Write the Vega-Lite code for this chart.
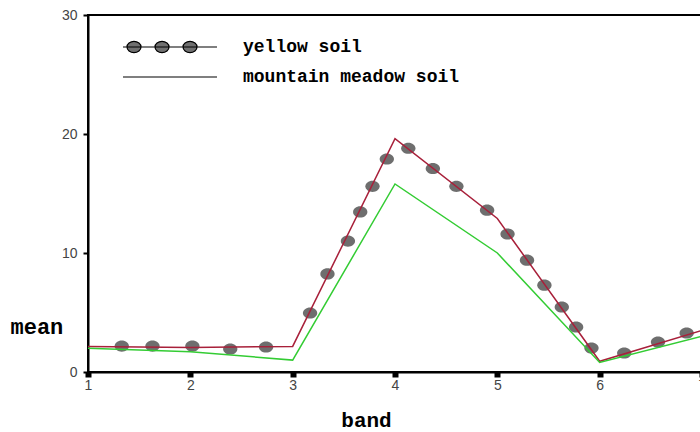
{
  "$schema": "https://vega.github.io/schema/vega-lite/v6.json",
  "width": 614,
  "height": 357,
  "autosize": {"type": "none"},
  "padding": {"left": 88, "top": 15, "right": 0, "bottom": 60},
  "background": "white",
  "config": {
    "view": {"stroke": "black", "strokeWidth": 2},
    "axis": {
      "grid": false,
      "domainColor": "black",
      "domainWidth": 2,
      "tickColor": "black",
      "labelFont": "Liberation Sans",
      "labelFontSize": 14,
      "labelColor": "#444444",
      "labelFlush": false,
      "titleFont": "Liberation Mono",
      "titleFontWeight": "bold",
      "titleFontSize": 21,
      "titleColor": "black"
    }
  },
  "resolve": {"scale": {"color": "independent"}},
  "datasets": {
    "lines": [
      {"band": 1, "mean": 2.15, "soil": "yellow soil"},
      {"band": 2, "mean": 2.05, "soil": "yellow soil"},
      {"band": 3, "mean": 2.15, "soil": "yellow soil"},
      {"band": 4, "mean": 19.6, "soil": "yellow soil"},
      {"band": 5, "mean": 12.9, "soil": "yellow soil"},
      {"band": 6, "mean": 0.9, "soil": "yellow soil"},
      {"band": 7, "mean": 3.5, "soil": "yellow soil"},
      {"band": 1, "mean": 2.0, "soil": "mountain meadow soil"},
      {"band": 2, "mean": 1.7, "soil": "mountain meadow soil"},
      {"band": 3, "mean": 1.0, "soil": "mountain meadow soil"},
      {"band": 4, "mean": 15.8, "soil": "mountain meadow soil"},
      {"band": 5, "mean": 10.0, "soil": "mountain meadow soil"},
      {"band": 6, "mean": 0.8, "soil": "mountain meadow soil"},
      {"band": 7, "mean": 3.0, "soil": "mountain meadow soil"}
    ],
    "markers": [
      {"band": 1.33, "mean": 2.18},
      {"band": 1.63, "mean": 2.18},
      {"band": 2.02, "mean": 2.18},
      {"band": 2.39, "mean": 1.93},
      {"band": 2.74, "mean": 2.1},
      {"band": 3.17, "mean": 4.96},
      {"band": 3.34, "mean": 8.24},
      {"band": 3.54, "mean": 11.0},
      {"band": 3.66, "mean": 13.45},
      {"band": 3.78, "mean": 15.6},
      {"band": 3.92, "mean": 17.9},
      {"band": 4.13, "mean": 18.8},
      {"band": 4.37, "mean": 17.1},
      {"band": 4.6, "mean": 15.6},
      {"band": 4.9, "mean": 13.6},
      {"band": 5.1, "mean": 11.6},
      {"band": 5.29, "mean": 9.4},
      {"band": 5.46, "mean": 7.3},
      {"band": 5.63, "mean": 5.46},
      {"band": 5.77, "mean": 3.78},
      {"band": 5.92, "mean": 2.02},
      {"band": 6.24, "mean": 1.6},
      {"band": 6.57, "mean": 2.52},
      {"band": 6.85, "mean": 3.28}
    ]
  },
  "layer": [
    {
      "data": {"name": "markers"},
      "mark": {
        "type": "point",
        "filled": true,
        "shape": "M-1,0A1,0.78 0 1,1 1,0A1,0.78 0 1,1 -1,0Z",
        "size": 205,
        "color": "#6e6e6e",
        "opacity": 1
      },
      "encoding": {
        "x": {
          "field": "band", "type": "quantitative",
          "scale": {"domain": [1, 7], "nice": false, "zero": false},
          "axis": {
            "values": [1, 2, 3, 4, 5, 6, 7], "format": "d",
            "tickSize": 5, "tickWidth": 6, "labelPadding": 1,
            "title": "band", "titleX": 278, "titleY": 48,
            "titleAlign": "center", "titleBaseline": "middle"
          }
        },
        "y": {
          "field": "mean", "type": "quantitative",
          "scale": {"domain": [0, 30], "nice": false},
          "axis": {
            "values": [0, 10, 20, 30],
            "tickSize": 5, "tickWidth": 2, "labelPadding": 6,
            "title": "mean", "titleAngle": 0, "titleX": -78, "titleY": 311,
            "titleAlign": "left", "titleBaseline": "middle", "titleFontSize": 22
          }
        }
      }
    },
    {
      "data": {"name": "lines"},
      "mark": {"type": "line", "strokeWidth": 1.5},
      "encoding": {
        "x": {"field": "band", "type": "quantitative"},
        "y": {"field": "mean", "type": "quantitative"},
        "color": {
          "field": "soil", "type": "nominal",
          "scale": {"domain": ["yellow soil", "mountain meadow soil"], "range": ["#a8203a", "#33cc33"]},
          "legend": null
        }
      }
    },
    {
      "data": {"name": "lines"},
      "mark": {"type": "line", "strokeWidth": 1.5, "opacity": 0},
      "encoding": {
        "x": {"field": "band", "type": "quantitative"},
        "y": {"field": "mean", "type": "quantitative"},
        "color": {
          "field": "soil", "type": "nominal",
          "scale": {"domain": ["yellow soil", "mountain meadow soil"], "range": ["black", "black"]},
          "legend": {
            "orient": "none", "legendX": 73, "legendY": 23,
            "title": null,
            "symbolSize": 196,
            "labelOffset": 64,
            "labelLimit": 0,
            "rowPadding": 12,
            "labelFont": "Liberation Mono",
            "labelFontWeight": "bold",
            "labelFontSize": 18,
            "labelColor": "black",
            "encode": {
              "symbols": {
                "update": {
                  "shape": {"signal": "datum.value === 'yellow soil' ? 'M-6.714,0H6.714M-6.143,0A1,0.8 0 1,1 -4.143,0A1,0.8 0 1,1 -6.143,0ZM-2.141,0A1,0.8 0 1,1 -0.141,0A1,0.8 0 1,1 -2.141,0ZM1.86,0A1,0.8 0 1,1 3.86,0A1,0.8 0 1,1 1.86,0Z' : 'M-6.714,0H6.714'"},
                  "size": {"value": 196},
                  "fill": {"value": "#707070"},
                  "strokeWidth": {"value": 1.2},
                  "opacity": {"value": 1}
                }
              }
            }
          }
        }
      }
    }
  ]
}
